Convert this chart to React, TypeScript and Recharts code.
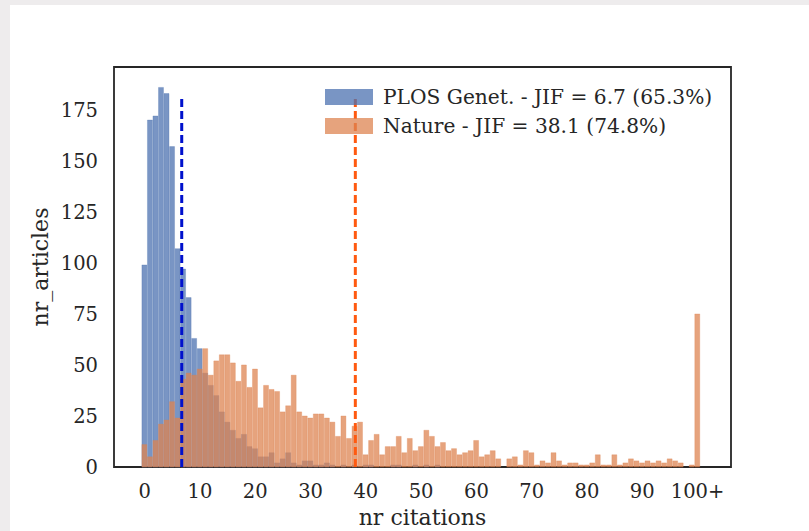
import { ComposedChart, Bar, XAxis, YAxis, ReferenceLine, ReferenceArea, Legend, Label } from 'recharts';

const bins = Array.from({ length: 101 }, (_, i) => i);

const plosCounts = [
  99, 170, 172, 186, 183, 157, 107, 97, 83, 63, 58,
  46, 40, 35, 27, 22, 18, 14, 16, 10, 9,
  5, 5, 7, 2, 4, 7, 2, 1, 3, 3,
  1, 1, 2, 1, 0, 1, 0, 1, 0, 1,
  1, 0, 0, 0, 1, 1, 0, 0, 1, 0,
  1, 0, 1, 0, 0, 0, 0, 0, 0, 0,
  0, 0, 0, 0, 0, 0, 0, 0, 0, 0,
  0, 0, 0, 0, 0, 0, 0, 0, 0, 0,
  0, 0, 0, 0, 0, 0, 0, 0, 0, 0,
  0, 0, 0, 0, 0, 0, 0, 0, 0, 0,
];

const natureCounts = [
  11, 5, 13, 21, 23, 32, 24, 43, 46, 45, 48,
  58, 45, 52, 55, 55, 51, 42, 50, 39, 48,
  29, 40, 38, 37, 27, 30, 45, 27, 25, 24,
  26, 26, 24, 22, 15, 25, 14, 20, 22, 6,
  13, 16, 6, 10, 10, 15, 7, 14, 8, 10,
  18, 15, 10, 12, 8, 9, 6, 7, 8, 13,
  5, 6, 8, 4, 0, 4, 5, 1, 8, 7,
  1, 3, 2, 7, 3, 1, 2, 2, 1, 1,
  2, 6, 1, 1, 6, 1, 2, 4, 3, 2,
  3, 2, 3, 2, 4, 3, 2, 0, 1, 75,
];

const xTicks = [0, 10, 20, 30, 40, 50, 60, 70, 80, 90, 100];
const yTicks = [0, 25, 50, 75, 100, 125, 150, 175];

const plosMean = 6.7;
const natureMean = 38.1;
const meanLineTop = 181;

const legendItems = [
  { label: 'PLOS Genet. - JIF = 6.7 (65.3%)', color: '#4c72b0' },
  { label: 'Nature - JIF = 38.1 (74.8%)', color: '#dd8452' },
];

const data = bins.map((b, i) => ({ bin: b, plos: plosCounts[i], nature: natureCounts[i] }));

const font = 'DejaVu Serif';
const ink = '#262626';
const xDomain = [-5.55, 106.05];
const yDomain = [0, 196];

const LegendBox = () => (
  <div style={{ fontFamily: font, fontSize: 20.2, color: ink }}>
    {legendItems.map(item => (
      <div key={item.label} style={{ display: 'flex', alignItems: 'center', height: 29, whiteSpace: 'nowrap' }}>
        <span style={{ display: 'inline-block', width: 48, height: 16, background: item.color, opacity: 0.75, marginRight: 10 }} />
        <span>{item.label}</span>
      </div>
    ))}
  </div>
);

const App = () => {
  return (
    <div style={{ position: 'fixed', inset: 0, background: '#eeeced' }}>
      <div style={{ position: 'absolute', left: 10, top: 5, right: 0, bottom: 0, background: '#fff' }} />
      <div style={{ position: 'absolute', left: 0, top: 0 }}>
        <ComposedChart
          width={809}
          height={531}
          data={data}
          margin={{ top: 67, right: 78, bottom: 0, left: 0 }}
          barCategoryGap={0}
          barGap={0}
        >
          <XAxis
            xAxisId="a"
            dataKey="bin"
            type="number"
            domain={xDomain}
            allowDataOverflow
            ticks={xTicks}
            tickFormatter={v => (v === 100 ? '100+' : String(v))}
            height={64}
            tickLine={false}
            tickSize={0}
            tickMargin={17}
            axisLine={false}
            tick={{ fill: ink, fontSize: 19.5, fontFamily: font }}
          >
            <Label value="nr citations" position="insideBottom" offset={6} fill={ink} fontSize={22} fontFamily={font} />
          </XAxis>
          <XAxis xAxisId="b" dataKey="bin" type="number" domain={xDomain} allowDataOverflow hide />
          <YAxis
            domain={yDomain}
            ticks={yTicks}
            width={114}
            tickLine={false}
            tickSize={0}
            tickMargin={16}
            axisLine={false}
            tick={{ fill: ink, fontSize: 19.5, fontFamily: font }}
          >
            <Label
              content={({ viewBox }: any) => (
                <text
                  x={viewBox.x + 40}
                  y={viewBox.y + viewBox.height / 2}
                  transform={`rotate(-90, ${viewBox.x + 40}, ${viewBox.y + viewBox.height / 2})`}
                  textAnchor="middle"
                  dominantBaseline="central"
                  fill={ink}
                  fontSize={22}
                  fontFamily={font}
                >
                  nr_articles
                </text>
              )}
            />
          </YAxis>
          <Bar
            xAxisId="a"
            dataKey="plos"
            barSize={5.53}
            fill="#4c72b0"
            fillOpacity={0.75}
            stroke="#4c72b0"
            strokeOpacity={0.5}
            strokeWidth={0.6}
            isAnimationActive={false}
          />
          <Bar
            xAxisId="b"
            dataKey="nature"
            barSize={5.53}
            fill="#dd8452"
            fillOpacity={0.75}
            stroke="#dd8452"
            strokeOpacity={0.5}
            strokeWidth={0.6}
            isAnimationActive={false}
          />
          <ReferenceLine
            xAxisId="a"
            segment={[{ x: plosMean, y: 0 }, { x: plosMean, y: meanLineTop }]}
            stroke="#0011cc"
            strokeWidth={3}
            strokeDasharray="8 4"
          />
          <ReferenceLine
            xAxisId="a"
            segment={[{ x: natureMean, y: 0 }, { x: natureMean, y: meanLineTop }]}
            stroke="#ff5a10"
            strokeWidth={3}
            strokeDasharray="8 4"
          />
          <ReferenceArea
            xAxisId="a"
            x1={xDomain[0]}
            x2={xDomain[1]}
            y1={yDomain[0]}
            y2={yDomain[1]}
            fill="none"
            fillOpacity={0}
            stroke={ink}
            strokeWidth={1.8}
            ifOverflow="visible"
          />
          <Legend
            layout="vertical"
            align="center"
            verticalAlign="middle"
            content={() => <LegendBox />}
            wrapperStyle={{ top: 82, left: 325, width: 420 }}
          />
        </ComposedChart>
      </div>
    </div>
  );
};

export default App;
